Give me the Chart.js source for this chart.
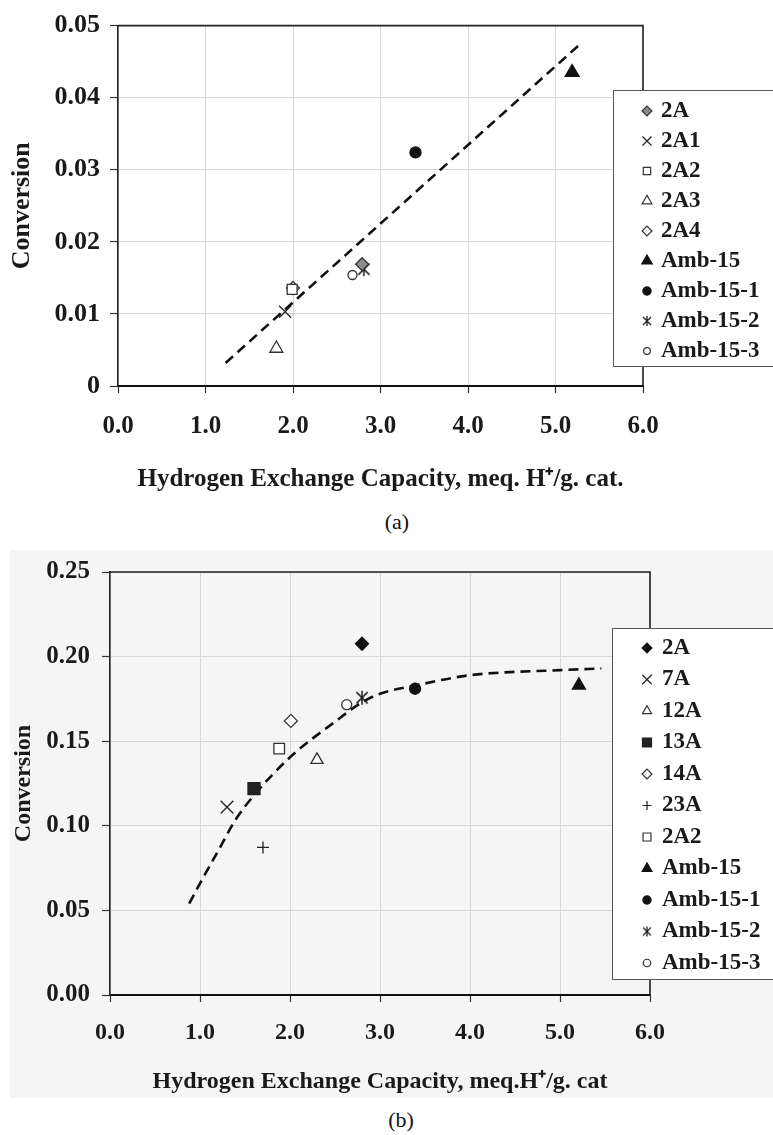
<!DOCTYPE html>
<html>
<head>
<meta charset="utf-8">
<script src="https://cdn.jsdelivr.net/npm/chart.js@4.4.0/dist/chart.umd.min.js"></script>
<style>
  body { margin: 0; background: #fff; width: 773px; height: 1135px; position: relative; overflow: hidden; }
  .wrap { position: absolute; left: 0; width: 773px; }
  #wrapA { top: 0; height: 500px; }
  #wrapB { top: 540px; height: 560px; }
  #bgB { position: absolute; left: 10px; top: 550px; width: 763px; height: 548px; background: #f5f5f5; }
  .cap { position: absolute; width: 60px; text-align: center; font-family: "Liberation Serif", serif; font-size: 22px; color: #111; }
</style>
</head>
<body>
<div id="bgB"></div>
<div class="wrap" id="wrapA"><canvas id="chartA" width="773" height="500"></canvas></div>
<div class="wrap" id="wrapB"><canvas id="chartB" width="773" height="560"></canvas></div>
<div class="cap" style="left:367px; top:509px;">(a)</div>
<div class="cap" style="left:371px; top:1107px;">(b)</div>
<script>
// ---- data (a) ----
const seriesA = ['2A', '2A1', '2A2', '2A3', '2A4', 'Amb-15', 'Amb-15-1', 'Amb-15-2', 'Amb-15-3'];
const capA = [2.79, 1.91, 1.99, 1.81, 2.00, 5.19, 3.40, 2.81, 2.68];
const convA = [0.0169, 0.0103, 0.0134, 0.0052, 0.0136, 0.0435, 0.0324, 0.0162, 0.0154];
const trendCapA = [1.23, 5.26];
const trendConvA = [0.0032, 0.0472];
const yTicksA = [0, 0.01, 0.02, 0.03, 0.04, 0.05];
const yTickLabelsA = ['0', '0.01', '0.02', '0.03', '0.04', '0.05'];

// ---- data (b) ----
const seriesB = ['2A', '7A', '12A', '13A', '14A', '23A', '2A2', 'Amb-15', 'Amb-15-1', 'Amb-15-2', 'Amb-15-3'];
const capB = [2.80, 1.30, 2.30, 1.60, 2.01, 1.70, 1.88, 5.21, 3.39, 2.80, 2.63];
const convB = [0.2076, 0.111, 0.139, 0.122, 0.162, 0.0872, 0.1456, 0.183, 0.181, 0.1757, 0.1716];
const curveCapB = [0.88, 1.0, 1.2, 1.4, 1.6, 2.0, 2.5, 2.8, 3.0, 3.4, 4.0, 5.0, 5.46];
const curveConvB = [0.054, 0.066, 0.085, 0.104, 0.118, 0.1405, 0.1615, 0.173, 0.178, 0.183, 0.189, 0.192, 0.193];
const yTicksB = [0, 0.05, 0.10, 0.15, 0.20, 0.25];
const yTickLabelsB = ['0.00', '0.05', '0.10', '0.15', '0.20', '0.25'];

// shared x axis
const xTicks = [0, 1, 2, 3, 4, 5, 6];
const xTickLabels = ['0.0', '1.0', '2.0', '3.0', '4.0', '5.0', '6.0'];

const serif = '"Liberation Serif", "Times New Roman", serif';
const ink = '#1a1a1a';

// excel style asterisk: x with a vertical bar
function makeAsterisk(size, lw) {
  const c = document.createElement('canvas');
  c.width = c.height = size;
  const g = c.getContext('2d');
  const m = size / 2, r = size / 2 - 1, d = r * 0.8;
  g.strokeStyle = '#222';
  g.lineWidth = lw;
  g.beginPath();
  g.moveTo(m - d, m - d); g.lineTo(m + d, m + d);
  g.moveTo(m + d, m - d); g.lineTo(m - d, m + d);
  g.moveTo(m, m - r); g.lineTo(m, m + r);
  g.stroke();
  return c;
}
const asterBig = makeAsterisk(16, 1.5);
const asterSmall = makeAsterisk(12, 1.3);

// marker looks (kept apart from the values)
const markA = [
  { ps: 'rectRot', r: 6.5, bg: '#8c8c8c', bd: '#333' },
  { ps: 'crossRot', r: 8.5, bg: 'rgba(0,0,0,0)', bd: '#222' },
  { ps: 'rect', r: 7, bg: '#fff', bd: '#333' },
  { ps: 'triangle', r: 7.5, bg: '#fff', bd: '#333' },
  { ps: 'rectRot', r: 6.5, bg: '#fff', bd: '#333' },
  { ps: 'triangle', r: 8, bg: '#111', bd: '#111' },
  { ps: 'circle', r: 5.5, bg: '#111', bd: '#111' },
  { ps: asterBig, lps: asterSmall, r: 7, bg: '#222', bd: '#222' },
  { ps: 'circle', r: 4.5, bg: '#fff', bd: '#333' }
];
const markB = [
  { ps: 'rectRot', r: 6.5, bg: '#111', bd: '#111' },
  { ps: 'crossRot', r: 9, bg: 'rgba(0,0,0,0)', bd: '#222' },
  { ps: 'triangle', r: 7, bg: '#fff', bd: '#333' },
  { ps: 'rect', r: 8.5, bg: '#222', bd: '#222' },
  { ps: 'rectRot', r: 6.5, bg: '#fff', bd: '#333' },
  { ps: 'cross', r: 6, bg: 'rgba(0,0,0,0)', bd: '#222' },
  { ps: 'rect', r: 7.5, bg: '#fff', bd: '#333' },
  { ps: 'triangle', r: 7.5, bg: '#111', bd: '#111' },
  { ps: 'circle', r: 5.5, bg: '#111', bd: '#111' },
  { ps: asterBig, lps: asterSmall, r: 7, bg: '#222', bd: '#222' },
  { ps: 'circle', r: 5, bg: '#fff', bd: '#333' }
];

function pointSets(names, xs, ys, marks) {
  return names.map((n, i) => ({
    type: 'scatter',
    label: n,
    data: [{ x: xs[i], y: ys[i] }],
    pointStyle: marks[i].ps,
    legendStyle: marks[i].lps || marks[i].ps,
    pointRadius: marks[i].r,
    pointBackgroundColor: marks[i].bg,
    pointBorderColor: marks[i].bd,
    backgroundColor: marks[i].bg,
    borderColor: marks[i].bd,
    pointBorderWidth: 1.3,
    order: 0
  }));
}

function fitLine(xs, ys, smooth) {
  return {
    type: 'scatter',
    label: 'fit',
    isFit: true,
    data: xs.map((x, i) => ({ x: x, y: ys[i] })),
    showLine: true,
    borderColor: '#111',
    borderWidth: 2.6,
    borderDash: [10, 6],
    pointRadius: 0,
    cubicInterpolationMode: smooth ? 'monotone' : 'default',
    order: 10
  };
}

// frame on top and right of the plot
const plotFrame = {
  id: 'plotFrame',
  beforeDatasetsDraw(chart) {
    const { ctx, chartArea: a } = chart;
    ctx.save();
    ctx.strokeStyle = '#222';
    ctx.lineWidth = 1.6;
    ctx.beginPath();
    ctx.moveTo(a.left, a.top);
    ctx.lineTo(a.right, a.top);
    ctx.lineTo(a.right, a.bottom);
    ctx.stroke();
    ctx.restore();
  }
};

// excel like legend box overlapping the plot's right edge
const boxLegend = {
  id: 'boxLegend',
  afterDraw(chart, args, o) {
    const ctx = chart.ctx;
    ctx.save();
    ctx.fillStyle = '#fff';
    ctx.fillRect(o.left, o.top, o.right - o.left, o.bottom - o.top);
    ctx.strokeStyle = '#555';
    ctx.lineWidth = 1;
    ctx.strokeRect(o.left + 0.5, o.top + 0.5, o.right - o.left, o.bottom - o.top);
    ctx.font = 'bold 23px ' + serif;
    ctx.textBaseline = 'middle';
    chart.data.datasets.filter(d => !d.isFit).forEach((d, i) => {
      const y = o.rowStart + i * o.rowGap;
      ctx.fillStyle = d.backgroundColor;
      ctx.strokeStyle = d.borderColor;
      ctx.lineWidth = 1.2;
      Chart.helpers.drawPoint(ctx, {
        pointStyle: d.legendStyle, rotation: 0,
        radius: typeof d.legendStyle === 'string' ? d.pointRadius * 0.75 : 6,
        borderWidth: 1.2
      }, o.markX, y);
      ctx.fillStyle = ink;
      ctx.fillText(d.label, o.textX, y);
    });
    ctx.restore();
  }
};

function axes(cfg) {
  const tickFont = { family: serif, size: cfg.xTickSize, weight: 'bold' };
  return {
    x: {
      type: 'linear', min: 0, max: 6,
      afterBuildTicks: s => { s.ticks = xTicks.map(v => ({ value: v })); },
      afterFit: s => { s.height = cfg.xHeight; },
      ticks: { callback: (v, i) => xTickLabels[i], font: tickFont, color: ink, padding: cfg.xPad, maxRotation: 0, autoSkip: false },
      grid: { color: '#d6d6d6', lineWidth: 1, tickLength: 7, tickColor: '#333', tickWidth: 1.2 },
      border: { color: '#111', width: 2 },
      title: { display: true, text: cfg.xTitle, color: ink, font: { family: serif, size: cfg.xTitleSize, weight: 'bold' }, padding: { top: 0, bottom: cfg.xTitlePad } }
    },
    y: {
      type: 'linear', min: cfg.yTicks[0], max: cfg.yTicks[cfg.yTicks.length - 1],
      afterBuildTicks: s => { s.ticks = cfg.yTicks.map(v => ({ value: v })); },
      afterFit: s => { s.width = cfg.yWidth; },
      ticks: { callback: (v, i) => cfg.yLabels[i], font: { family: serif, size: cfg.yTickSize, weight: 'bold' }, color: ink, padding: cfg.yPad },
      grid: { color: '#d6d6d6', lineWidth: 1, tickLength: 8, tickColor: '#333', tickWidth: 1.2 },
      border: { color: '#222', width: 1.6 },
      title: { display: true, text: 'Conversion', color: ink, align: cfg.yTitleAlign || 'center', font: { family: serif, size: cfg.yTitleSize, weight: 'bold' }, padding: { top: cfg.yTitlePad, bottom: 0 } }
    }
  };
}

new Chart(document.getElementById('chartA'), {
  type: 'scatter',
  data: { datasets: pointSets(seriesA, capA, convA, markA).concat([fitLine(trendCapA, trendConvA, false)]) },
  options: {
    responsive: false,
    animation: false,
    layout: { padding: { left: 0, top: 23, right: 130, bottom: 0 } },
    scales: axes({
      xHeight: 114, xPad: 19, xTickSize: 25, xTitleSize: 25, xTitlePad: 5,
      xTitle: 'Hydrogen Exchange Capacity, meq. H\u207A/g. cat.',
      yTicks: yTicksA, yLabels: yTickLabelsA, yWidth: 118, yPad: 10, yTickSize: 26, yTitleSize: 26, yTitlePad: 7
    }),
    plugins: {
      legend: { display: false },
      tooltip: { enabled: false },
      boxLegend: { left: 613, top: 90, right: 773, bottom: 366, rowStart: 111, rowGap: 30, markX: 647, textX: 661 }
    }
  },
  plugins: [plotFrame, boxLegend]
});

new Chart(document.getElementById('chartB'), {
  type: 'scatter',
  data: { datasets: pointSets(seriesB, capB, convB, markB).concat([fitLine(curveCapB, curveConvB, true)]) },
  options: {
    responsive: false,
    animation: false,
    layout: { padding: { left: 0, top: 32, right: 123, bottom: 0 } },
    scales: axes({
      xHeight: 105, xPad: 16, xTickSize: 24, xTitleSize: 24, xTitlePad: 4,
      xTitle: 'Hydrogen Exchange Capacity, meq.H\u207A/g. cat',
      yTicks: yTicksB, yLabels: yTickLabelsB, yWidth: 110, yPad: 12, yTickSize: 25, yTitleSize: 24, yTitlePad: 9
    }),
    plugins: {
      legend: { display: false },
      tooltip: { enabled: false },
      boxLegend: { left: 612, top: 88, right: 773, bottom: 439, rowStart: 108, rowGap: 31.5, markX: 647, textX: 662 }
    }
  },
  plugins: [plotFrame, boxLegend]
});
</script>
</body>
</html>
